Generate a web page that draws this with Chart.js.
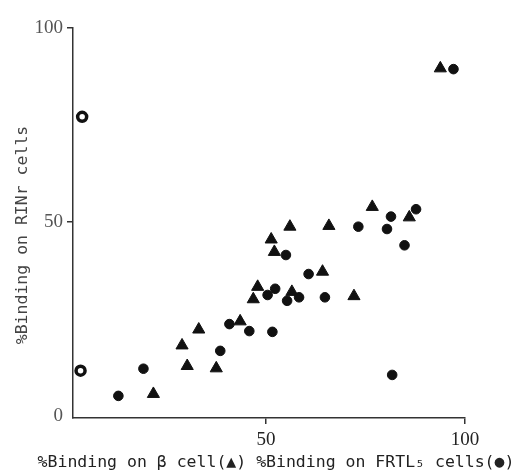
<!DOCTYPE html>
<html>
<head>
<meta charset="utf-8">
<script src="https://cdn.jsdelivr.net/npm/chart.js@4/dist/chart.umd.min.js"></script>
<style>
html, body { margin: 0; padding: 0; background: #fff; }
#wrap { width: 521px; height: 475px; position: relative; }
</style>
</head>
<body>
<div id="wrap"><canvas id="bindingChart"></canvas></div>
<script>
// beta cell binding (triangles): x = % binding on beta cell, y = % binding on RINr cells
const betaX = [21.7, 30.2, 37.5, 28.9, 33.1, 43.5, 46.8, 47.9, 51.3, 52.1, 56.0, 56.5, 64.2, 65.8, 72.1, 76.7, 86.0, 93.8];
const betaY = [5.7, 12.9, 12.3, 18.2, 22.3, 24.4, 30.1, 33.3, 45.5, 42.3, 48.8, 32.0, 37.2, 49.0, 30.9, 53.9, 51.2, 89.6];

// FRTL5 binding (filled circles)
const frtlX = [12.9, 19.2, 38.5, 40.8, 45.8, 51.6, 50.4, 52.3, 55.3, 55.0, 58.3, 60.7, 64.8, 73.2, 80.4, 81.4, 84.8, 87.7, 81.7, 97.1];
const frtlY = [5.2, 12.2, 16.8, 23.7, 21.9, 21.7, 31.2, 32.8, 29.7, 41.5, 30.6, 36.6, 30.6, 48.8, 48.2, 51.4, 44.0, 53.3, 10.6, 89.4];

// open circles sitting on the y axis
const openX = [3.8, 3.4];
const openY = [77.1, 11.7];

const xTicks = [50, 100];
const yTicks = [0, 50, 100];

const xTitle = '%Binding on \u03b2 cell(\u25b2) %Binding on FRTL\u2085 cells(\u25cf)';
const yTitle = '%Binding on RINr cells';

function toPoints(xs, ys) {
    return xs.map((x, i) => ({ x: x, y: ys[i] }));
}

// Function to draw the axis titles where the scan has them
const axisTitles = {
    id: 'axisTitles',
    afterDraw(chart) {
        const ctx = chart.ctx;
        ctx.save();
        ctx.fillStyle = '#222';
        ctx.font = '16.5px "DejaVu Sans Mono"';
        ctx.textAlign = 'center';
        ctx.textBaseline = 'middle';
        ctx.fillText(xTitle, 276, 463);
        ctx.translate(23, 235);
        ctx.rotate(-Math.PI / 2);
        ctx.fillStyle = '#444';
        ctx.fillText(yTitle, 0, 0);
        ctx.restore();
    }
};

const ctx = document.getElementById('bindingChart').getContext('2d');
const bindingChart = new Chart(ctx, {
    type: 'scatter',
    data: {
        datasets: [{
            label: 'beta cell',
            data: toPoints(betaX, betaY),
            pointStyle: 'triangle',
            pointRadius: 7,
            backgroundColor: '#111',
            borderColor: '#111',
            borderWidth: 1
        },
        {
            label: 'FRTL5 cells',
            data: toPoints(frtlX, frtlY),
            pointStyle: 'circle',
            pointRadius: 4.8,
            backgroundColor: '#111',
            borderColor: '#111',
            borderWidth: 1
        },
        {
            label: 'open',
            data: toPoints(openX, openY),
            pointStyle: 'circle',
            pointRadius: 4.5,
            backgroundColor: '#fff',
            borderColor: '#111',
            borderWidth: 3.5
        }]
    },
    options: {
        responsive: true,
        maintainAspectRatio: false,
        animation: false,
        clip: false,
        layout: { padding: { top: 28, right: 56, left: 0, bottom: 0 } },
        plugins: {
            legend: { display: false },
            tooltip: { enabled: false }
        },
        scales: {
            x: {
                type: 'linear',
                min: 1.5,
                max: 100,
                afterBuildTicks: s => { s.ticks = xTicks.map(v => ({ value: v })); },
                afterFit: s => { s.height = 57; },
                grid: { drawOnChartArea: false, tickLength: 6, color: '#333', lineWidth: 1.5 },
                border: { color: '#333', width: 1.5 },
                ticks: { font: { family: 'Liberation Serif', size: 19 }, color: '#222', padding: 5, maxRotation: 0 }
            },
            y: {
                type: 'linear',
                min: -0.5,
                max: 100,
                afterBuildTicks: s => { s.ticks = yTicks.map(v => ({ value: v })); },
                afterFit: s => { s.width = 73; },
                grid: {
                    drawOnChartArea: false,
                    tickLength: 6,
                    lineWidth: 1.5,
                    color: c => (c.tick && c.tick.value === 0) ? 'rgba(0,0,0,0)' : '#333'
                },
                border: { color: '#333', width: 1.5 },
                ticks: { font: { family: 'Liberation Serif', size: 19 }, color: '#555', padding: 4 }
            }
        }
    },
    plugins: [axisTitles]
});
</script>
</body>
</html>
